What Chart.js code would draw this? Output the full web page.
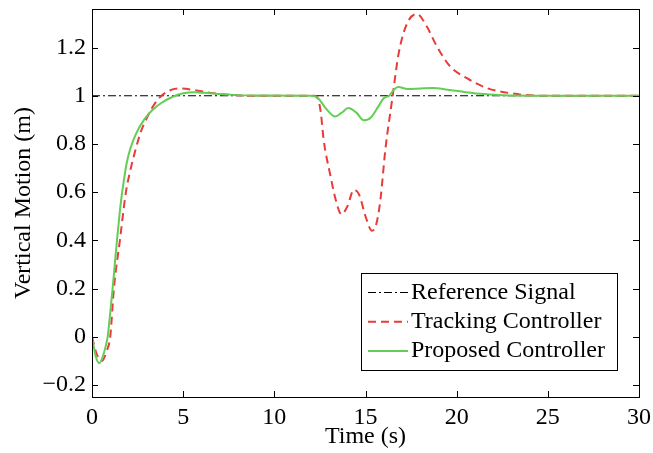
<!DOCTYPE html>
<html>
<head>
<meta charset="utf-8">
<script src="https://cdn.jsdelivr.net/npm/chart.js@4.4.1/dist/chart.umd.min.js"></script>
<style>
  body { margin: 0; background: #fff; }
</style>
</head>
<body>
<canvas id="chartCanvas" width="653" height="453"></canvas>
<script>
// values
const refName = 'Reference Signal';
const refTime = [0, 30];
const refValues = [1, 1];

const trackName = 'Tracking Controller';
const trackTime = [0, 0.25, 0.55, 0.8, 1.0, 1.2, 1.53, 1.86, 2.1, 2.4, 2.7, 2.96, 3.3, 3.67, 4.2, 4.8, 5.5, 6.5, 7.5, 9,
    12.2, 12.4, 12.55, 12.7, 13.08, 13.36, 13.68, 14.0, 14.36, 14.65, 15.0, 15.36, 15.6, 15.82, 16.09, 16.46, 16.82,
    17.28, 17.83, 18.37, 18.92, 19.65, 20.56, 21.66, 23, 24.6, 30];
const trackValues = [0, -0.07, -0.1, -0.06, 0, 0.2, 0.4, 0.6, 0.69, 0.78, 0.855, 0.9, 0.95, 0.99, 1.02, 1.03, 1.025, 1.012, 1.004, 1.0,
    1.0, 0.985, 0.93, 0.82, 0.667, 0.57, 0.508, 0.54, 0.61, 0.59, 0.5, 0.44, 0.47, 0.57, 0.777, 0.983, 1.176,
    1.30, 1.339, 1.286, 1.204, 1.121, 1.073, 1.032, 1.01, 1.0, 1.0];

const propName = 'Proposed Controller';
const propTime = [0, 0.2, 0.4, 0.6, 0.75, 0.86, 1.0, 1.13, 1.25, 1.37, 1.5, 1.62, 1.75, 1.9, 2.1, 2.4, 2.85, 3.3, 3.8, 4.4, 5.0, 5.6,
    6.5, 7.5, 9, 12, 12.4, 12.8, 13.35, 13.7, 14.05, 14.5, 14.9, 15.3, 15.7, 16.0, 16.3, 16.55, 16.8, 17.3, 18.0,
    18.7, 19.5, 20.5, 21.5, 22.5, 25, 30];
const propValues = [0, -0.08, -0.11, -0.08, -0.04, 0, 0.1, 0.2, 0.3, 0.4, 0.5, 0.58, 0.65, 0.72, 0.78, 0.84, 0.9, 0.94, 0.97, 0.995, 1.01, 1.015,
    1.01, 1.005, 1.001, 1.0, 0.99, 0.95, 0.914, 0.93, 0.949, 0.93, 0.898, 0.91, 0.955, 0.99, 1.0, 1.025, 1.036, 1.028, 1.03,
    1.032, 1.025, 1.015, 1.007, 1.002, 1.0, 1.0];

const xTicks = [0, 5, 10, 15, 20, 25, 30];
const yTicks = [-0.2, 0, 0.2, 0.4, 0.6, 0.8, 1, 1.2];

const serif = "'Liberation Serif', 'Times New Roman', serif";

function toPoints(xs, ys) {
    return xs.map((x, i) => ({ x: x, y: ys[i] }));
}

function tickLabel(v) {
    // matlab style minus sign
    return v < 0 ? '\u2212' + Math.abs(v) : String(v);
}

// box, inward ticks and the legend drawn on top of the plot
const framePlugin = {
    id: 'frame',
    afterDraw(chart) {
        const { ctx, chartArea: a, scales } = chart;
        const tickLen = 6;
        ctx.save();
        ctx.strokeStyle = '#000';
        ctx.lineWidth = 1;
        ctx.setLineDash([]);
        ctx.strokeRect(Math.round(a.left) + 0.5, Math.round(a.top) + 0.5,
            Math.round(a.right - a.left), Math.round(a.bottom - a.top));

        ctx.beginPath();
        xTicks.forEach(v => {
            const px = Math.round(scales.x.getPixelForValue(v)) + 0.5;
            ctx.moveTo(px, a.bottom); ctx.lineTo(px, a.bottom - tickLen);
            ctx.moveTo(px, a.top); ctx.lineTo(px, a.top + tickLen);
        });
        yTicks.forEach(v => {
            const py = Math.round(scales.y.getPixelForValue(v)) + 0.5;
            ctx.moveTo(a.left, py); ctx.lineTo(a.left + tickLen, py);
            ctx.moveTo(a.right, py); ctx.lineTo(a.right - tickLen, py);
        });
        ctx.stroke();

        // legend box in the lower right corner
        const box = { width: 256, height: 97 };
        box.left = a.right - 22 - box.width;
        box.top = a.bottom - 27 - box.height;
        ctx.fillStyle = '#fff';
        ctx.fillRect(box.left, box.top, box.width, box.height);
        ctx.strokeRect(Math.round(box.left) + 0.5, Math.round(box.top) + 0.5, box.width, box.height);

        const order = [2, 1, 0];
        ctx.font = '24px ' + serif;
        ctx.textBaseline = 'middle';
        ctx.textAlign = 'left';
        order.forEach((di, row) => {
            const ds = chart.data.datasets[di];
            const cy = box.top + 19.5 + row * 29.3;
            ctx.save();
            ctx.strokeStyle = ds.borderColor;
            ctx.lineWidth = ds.borderWidth;
            ctx.setLineDash(ds.borderDash || []);
            ctx.beginPath();
            ctx.moveTo(box.left + 7, cy);
            ctx.lineTo(box.left + 47, cy);
            ctx.stroke();
            ctx.restore();
            ctx.fillStyle = '#000';
            ctx.fillText(ds.label, box.left + 50, cy);
        });
        ctx.restore();
    }
};

new Chart(document.getElementById('chartCanvas').getContext('2d'), {
    type: 'line',
    data: {
        datasets: [
            {
                label: propName,
                data: toPoints(propTime, propValues),
                borderColor: 'rgb(100, 205, 85)',
                borderWidth: 2,
                pointRadius: 0,
                cubicInterpolationMode: 'monotone',
                fill: false
            },
            {
                label: trackName,
                data: toPoints(trackTime, trackValues),
                borderColor: 'rgb(232, 60, 56)',
                borderWidth: 2,
                borderDash: [8, 5],
                pointRadius: 0,
                cubicInterpolationMode: 'monotone',
                fill: false
            },
            {
                label: refName,
                data: toPoints(refTime, refValues),
                borderColor: '#000',
                borderWidth: 1.2,
                borderDash: [8, 3, 2, 3],
                pointRadius: 0,
                fill: false
            }
        ]
    },
    options: {
        responsive: false,
        devicePixelRatio: 1,
        animation: false,
        layout: { padding: { top: 9, right: 14, left: 0, bottom: 0 } },
        plugins: {
            legend: { display: false },
            tooltip: { enabled: false }
        },
        scales: {
            x: {
                type: 'linear',
                min: 0,
                max: 30,
                afterBuildTicks: (scale) => { scale.ticks = xTicks.map(v => ({ value: v })); },
                afterFit: (scale) => {
                    scale.height = 56;
                    scale.paddingLeft = 0;
                    scale.paddingRight = 0;
                },
                grid: { display: false, drawTicks: false },
                border: { display: false },
                ticks: {
                    padding: 6,
                    color: '#000',
                    font: { family: serif, size: 24 },
                    maxRotation: 0,
                    callback: tickLabel
                },
                title: {
                    display: true,
                    text: 'Time (s)',
                    color: '#000',
                    font: { family: serif, size: 24 },
                    padding: { top: 0, bottom: 2 }
                }
            },
            y: {
                type: 'linear',
                min: -0.25,
                max: 1.36,
                afterBuildTicks: (scale) => { scale.ticks = yTicks.map(v => ({ value: v })); },
                afterFit: (scale) => {
                    scale.width = 92;
                    scale.paddingTop = 0;
                    scale.paddingBottom = 0;
                },
                grid: { display: false, drawTicks: false },
                border: { display: false },
                ticks: {
                    padding: 6,
                    color: '#000',
                    font: { family: serif, size: 24 },
                    callback: tickLabel
                },
                title: {
                    display: true,
                    text: 'Vertical Motion (m)',
                    color: '#000',
                    font: { family: serif, size: 24 },
                    padding: { top: 9, bottom: 0 }
                }
            }
        }
    },
    plugins: [framePlugin]
});
</script>
</body>
</html>
